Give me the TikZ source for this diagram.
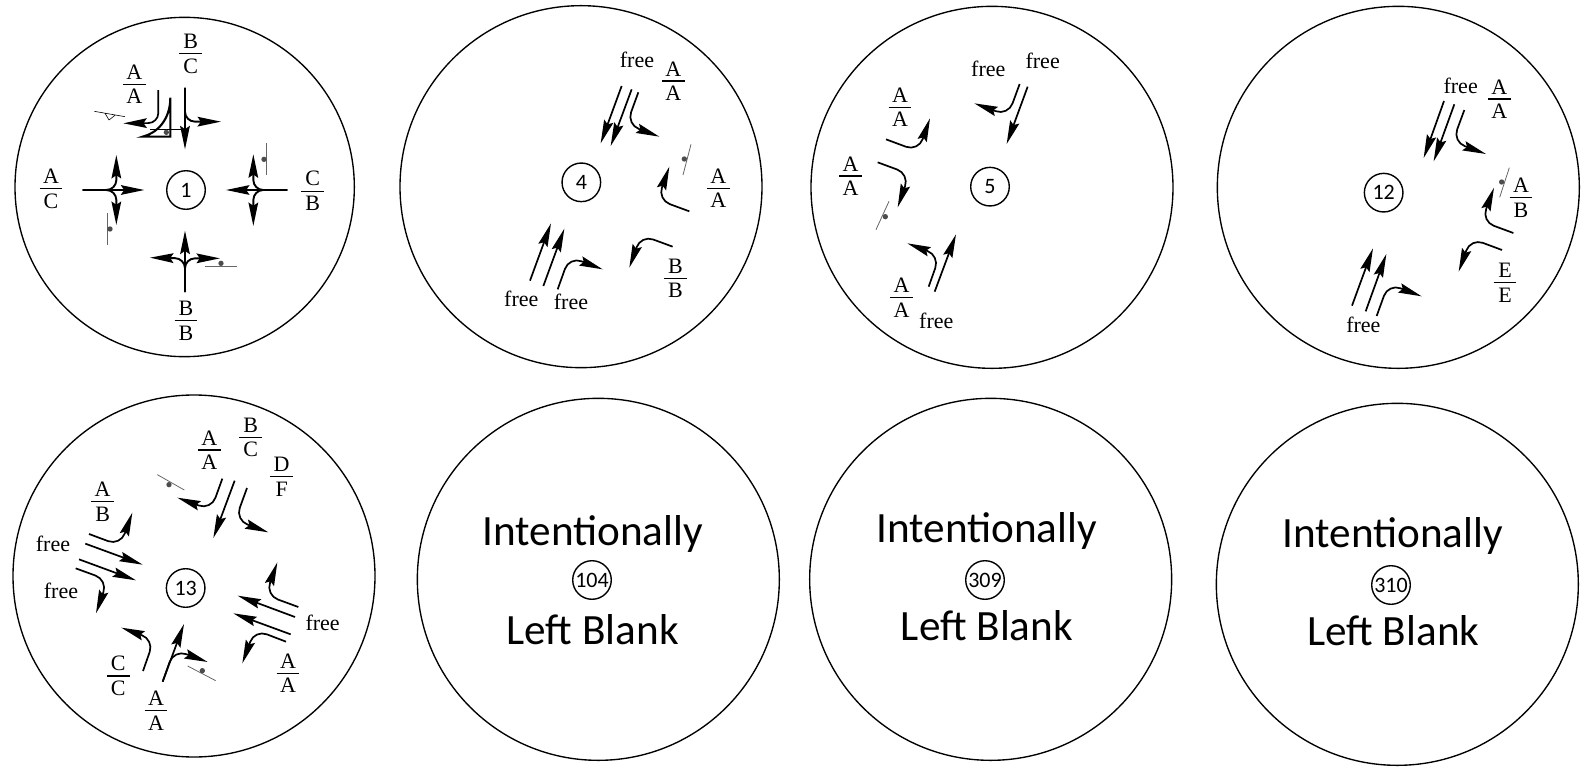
\documentclass[tikz,border=0pt]{standalone}
\usepackage{amsmath}
\usepackage{fontspec}
\setmainfont{Liberation Serif}
\newfontfamily\capfont{Carlito}
\usetikzlibrary{arrows.meta}

\newcommand{\frlab}[2]{\vbox{\offinterlineskip\hbox to 11.3pt{\hfil#1\hfil}\vskip 2.2pt\hrule height 0.6pt\vskip 2.2pt\hbox to 11.3pt{\hfil#2\hfil}}}
\newcommand{\sensor}[3]{\draw[sens] (#1) -- (#2); \fill[sensdot] (#3) circle [radius=8];}

\begin{document}
\begin{tikzpicture}[
      x=0.16667pt, y=-0.16667pt,
      ring/.style={draw, line width=0.68pt},
      num/.style={draw, circle, line width=0.7pt, minimum size=19.3pt, inner sep=0pt, font=\capfont\fontsize{11}{13}\selectfont},
      lab/.style={inner sep=0pt, font=\fontsize{11}{13}\selectfont},
      freelab/.style={inner sep=0pt, font=\fontsize{11}{13}\selectfont},
      blank/.style={anchor=base, inner sep=0pt, font=\capfont\fontsize{21.6}{26}\selectfont},
      arr/.style={-{Stealth[length=11.7pt, width=4.8pt, inset=1.6pt]}, line width=0.85pt},
      turn/.style={arr, rounded corners=6.5pt},
      heavy/.style={arr, line width=0.95pt},
      heavyturn/.style={heavy, rounded corners=5pt},
      sens/.style={draw=black!60, line width=0.4pt},
      sensdot/.style={black!70}
    ]
    \useasboundingbox (0,0) rectangle (4752,2316);

    % phase 1
    \draw[ring] (554,561) circle [radius=509];
    \node[num] (n1) at (558,570) {1};
    \node[lab] (a1) at (572,162) {\frlab{B}{C}};
    \node[lab] (a2) at (403,253) {\frlab{A}{A}};
    \node[lab] (a3) at (153,567) {\frlab{A}{C}};
    \node[lab] (a4) at (938,573) {\frlab{C}{B}};
    \node[lab] (a5) at (558,962) {\frlab{B}{B}};
    \draw[heavy] (555,263) -- (555,448);
    \draw[heavyturn] (555,263) -- (555,365) -- (663,365);
    \draw[arr, rounded corners=5pt] (475,270) -- (475,369) -- (370,370);
    \draw[line width=1.05pt] (511,293) .. controls (511,360) and (470,400) .. (428,410) -- (511,410) -- cycle;
    \draw[line width=0.3pt] (450,388) -- (555,388);
    \fill[sensdot] (499,397) circle [radius=8];
    \draw[line width=0.3pt] (283,334) -- (375,350) (315,340) -- (327,360) -- (345,346);
    \draw[heavy] (248,570) -- (433,570);
    \draw[heavyturn] (248,570) -- (349,570) -- (349,465);
    \draw[heavyturn] (248,570) -- (349,570) -- (349,675);
    \draw[heavy] (862,570) -- (678,570);
    \draw[heavyturn] (862,570) -- (760,570) -- (760,463);
    \draw[heavyturn] (862,570) -- (760,570) -- (760,678);
    \draw[heavy] (555,876) -- (555,692);
    \draw[heavyturn] (555,876) -- (555,775) -- (450,773);
    \draw[heavyturn] (555,876) -- (555,775) -- (660,775);
    \sensor{800,430}{800,525}{792,478}
    \sensor{321,640}{321,735}{330,687}
    \sensor{616,798}{710,798}{663,790}

    % phase 4
    \begin{scope}[shift={(1170,0)}]
      \draw[ring] (573,560) circle [radius=543];
      \node[num] (n4) at (574,547) {4};
      \node[freelab] (b1) at (741,180) {free};
      \node[lab] (b2) at (850,243) {\frlab{A}{A}};
      \node[lab] (b3) at (985,565) {\frlab{A}{A}};
      \node[lab] (b4) at (856,835) {\frlab{B}{B}};
      \node[freelab] (b5) at (394,897) {free};
      \node[freelab] (b6) at (543,905) {free};
      \draw[arr] (695,258) -- (632,430);
      \draw[arr] (725,268) -- (662,438);
      \draw[turn] (745,277) -- (710,373) -- (808,410);
      \draw[turn] (898,634) -- (803,599) -- (838,500);
      \draw[turn] (848,740) -- (753,705) -- (718,803);
      \draw[arr] (420,842) -- (483,670);
      \draw[arr] (460,858) -- (523,686);
      \draw[turn] (503,868) -- (538,770) -- (638,808);
      \sensor{903,433}{879,525}{883,477}
    \end{scope}

    % phase 5
    \begin{scope}[shift={(2400,0)}]
      \draw[ring] (576,562) circle [radius=543];
      \node[num] (n5) at (570,560) {5};
      \node[freelab] (c1) at (565,208) {free};
      \node[freelab] (c2) at (728,183) {free};
      \node[lab] (c3) at (300,322) {\frlab{A}{A}};
      \node[lab] (c4) at (152,528) {\frlab{A}{A}};
      \node[lab] (c5) at (305,893) {\frlab{A}{A}};
      \node[freelab] (c6) at (409,962) {free};
      \draw[arr] (683,260) -- (620,432);
      \draw[turn] (659,252) -- (624,347) -- (523,310);
      \draw[turn] (258,418) -- (355,454) -- (390,355);
      \draw[turn] (233,487) -- (328,522) -- (293,622);
      \draw[turn] (386,860) -- (419,767) -- (322,730);
      \draw[arr] (404,875) -- (468,703);
      \sensor{267,604}{228,689}{256,650}
    \end{scope}

    % phase 12
    \begin{scope}[shift={(3600,0)}]
      \draw[ring] (595,562) circle [radius=543];
      \node[num] (n12) at (551,578) {12};
      \node[freelab] (d1) at (782,258) {free};
      \node[lab] (d2) at (898,297) {\frlab{A}{A}};
      \node[lab] (d3) at (963,593) {\frlab{A}{B}};
      \node[lab] (d4) at (915,848) {\frlab{E}{E}};
      \node[freelab] (d5) at (490,975) {free};
      \draw[arr] (732,303) -- (671,474);
      \draw[arr] (763,313) -- (701,484);
      \draw[turn] (793,330) -- (758,425) -- (858,462);
      \draw[turn] (940,699) -- (845,664) -- (882,563);
      \draw[turn] (906,750) -- (812,715) -- (776,815);
      \draw[arr] (456,917) -- (519,745);
      \draw[arr] (497,934) -- (559,762);
      \draw[turn] (530,948) -- (565,851) -- (665,889);
      \sensor{928,503}{899,592}{905,546}
    \end{scope}

    % phase 13
    \begin{scope}[shift={(0,1170)}]
      \draw[ring] (582,558) circle [radius=543];
      \node[num] (n13) at (557,594) {13};
      \node[lab] (e1) at (628,180) {\frlab{A}{A}};
      \node[lab] (e2) at (752,142) {\frlab{B}{C}};
      \node[lab] (e3) at (845,260) {\frlab{D}{F}};
      \node[lab] (e4) at (308,335) {\frlab{A}{B}};
      \node[freelab] (e5) at (159,462) {free};
      \node[freelab] (e6) at (183,604) {free};
      \node[lab] (e7) at (355,858) {\frlab{C}{C}};
      \node[lab] (e8) at (468,962) {\frlab{A}{A}};
      \node[lab] (e9) at (864,850) {\frlab{A}{A}};
      \node[freelab] (e10) at (968,700) {free};
      \draw[turn] (667,266) -- (633,360) -- (532,323);
      \draw[arr] (704,272) -- (640,444);
      \draw[turn] (741,294) -- (706,390) -- (805,427);
      \draw[turn] (267,432) -- (361,467) -- (397,368);
      \draw[arr] (256,461) -- (428,524);
      \draw[arr] (237,508) -- (408,571);
      \draw[turn] (227,535) -- (323,570) -- (288,670);
      \draw[turn] (429,843) -- (462,749) -- (364,713);
      \draw[arr] (488,875) -- (552,702);
      \draw[turn] (488,875) -- (522,779) -- (623,816);
      \draw[turn] (895,651) -- (797,615) -- (832,517);
      \draw[arr] (885,681) -- (713,617);
      \draw[arr] (872,733) -- (700,670);
      \draw[turn] (858,755) -- (764,719) -- (727,820);
      \sensor{472,254}{553,300}{507,284}
      \sensor{563,828}{647,872}{607,842}
    \end{scope}

    % blank phases
    \begin{scope}[shift={(1260,1200)}]
      \draw[ring] (535,538) circle [radius=543];
      \node[num] (n104) at (516,540) {104};
      \node[blank] (f1) at (518,437) {Intentionally};
      \node[blank] (f2) at (518,733) {Left Blank};
    \end{scope}
    \begin{scope}[shift={(2370,1170)}]
      \draw[ring] (602,568) circle [radius=543];
      \node[num] (n309) at (585,570) {309};
      \node[blank] (g1) at (590,457) {Intentionally};
      \node[blank] (g2) at (591,750) {Left Blank};
    \end{scope}
    \begin{scope}[shift={(3582,1170)}]
      \draw[ring] (610,583) circle [radius=543];
      \node[num] (n310) at (591,585) {310};
      \node[blank] (h1) at (596,472) {Intentionally};
      \node[blank] (h2) at (598,765) {Left Blank};
    \end{scope}
  \end{tikzpicture}
\end{document}
